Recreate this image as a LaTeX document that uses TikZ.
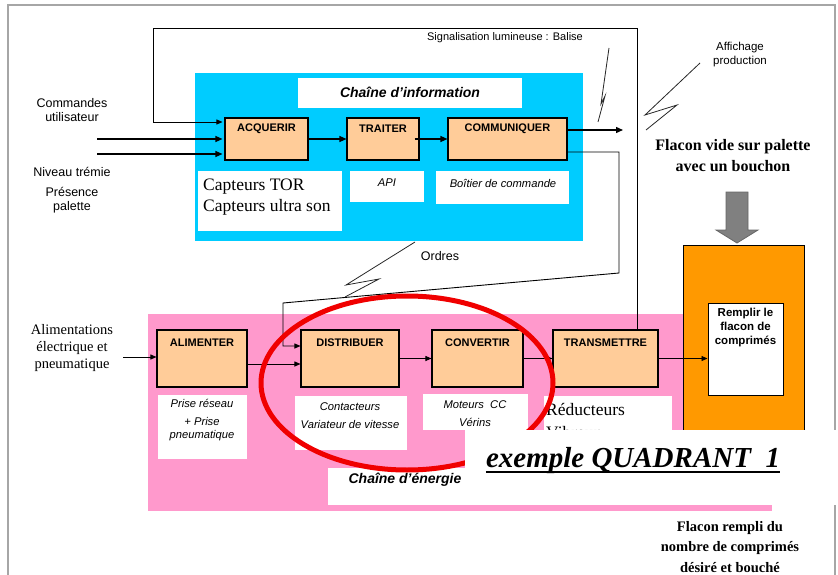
\documentclass[tikz,border=0pt]{standalone}
\usepackage{fontspec}
\setmainfont{Liberation Serif}
\setsansfont{Liberation Sans}
\usetikzlibrary{arrows.meta,calc}

\definecolor{framegray}{HTML}{A6A6A6}
\definecolor{infoblue}{HTML}{00CCFF}
\definecolor{energypink}{HTML}{FF99CC}
\definecolor{peach}{HTML}{FFCC99}
\definecolor{flaconorange}{HTML}{FF9900}
\definecolor{arrowgray}{HTML}{808080}
\definecolor{ringred}{HTML}{F00000}

\tikzset{
  frameline/.style={draw=framegray, line width=1.3pt},
  wire/.style={draw=black, line width=1.3pt},
  thinwire/.style={draw=black, line width=0.9pt},
  tip/.style={-{Triangle[length=7pt,width=6pt]}},
  smalltip/.style={-{Triangle[length=6pt,width=5pt]}},
  funcbox/.style={draw=black, line width=1.1pt, fill=peach, inner sep=0pt},
  notebox/.style={fill=white, draw=none, inner sep=0pt},
  funclabel/.style={font=\sffamily\bfseries\fontsize{11}{12}\selectfont, anchor=center},
  plain/.style={inner sep=0pt, align=center},
  smallsans/.style={plain, font=\sffamily\fontsize{12.5}{14.5}\selectfont},
  italsans/.style={plain, font=\sffamily\itshape\fontsize{11.2}{18}\selectfont},
  bigserif/.style={plain, font=\fontsize{17.5}{21}\selectfont},
  boldserif/.style={plain, font=\bfseries\fontsize{16}{21}\selectfont},
  bolt/.style={draw=black!85, line width=0.8pt},
}

\begin{document}
\begin{tikzpicture}[x=1pt,y=-1pt]
\useasboundingbox (0,0) rectangle (838,575);

% page frame
\draw[frameline] (8,590) -- (8,5) -- (835,5) -- (835,590);

% information chain background and title
\node[fill=infoblue, inner sep=0pt, minimum width=388, minimum height=168] (info) at (389,157) {};
\node[notebox, minimum width=224, minimum height=30] (infotitle) at (410,93) {};
\node[plain, font=\sffamily\bfseries\itshape\fontsize{14}{16}\selectfont] (infotitletxt) at (410,92) {Chaîne d'information};

% energy chain background
\node[fill=energypink, inner sep=0pt, minimum width=624, minimum height=197] (energy) at (460,412.5) {};

% support boxes of the information chain
\node[notebox, minimum width=144, minimum height=60] (capt) at (270,201) {};
\node[notebox, minimum width=74, minimum height=31] (api) at (387,186.5) {};
\node[notebox, minimum width=133, minimum height=33] (boit) at (502.5,187.5) {};
\node[bigserif, anchor=west, align=left] (capttxt) at (203,197) {Capteurs TOR\\Capteurs ultra son};
\node[italsans] (apitxt) at (387,183) {API};
\node[italsans] (boittxt) at (503,183) {Boîtier de commande};

% functions of the information chain
\node[funcbox, minimum width=83, minimum height=42,
      label={[funclabel, yshift=-11pt]north:ACQUERIR}] (acq) at (266.5,139) {};
\node[funcbox, minimum width=72, minimum height=42,
      label={[funclabel, yshift=-11pt]north:TRAITER}] (tra) at (383,139) {};
\node[funcbox, minimum width=119, minimum height=42,
      label={[funclabel, yshift=-11pt]north:COMMUNIQUER}] (com) at (507.5,139) {};

% support boxes of the energy chain
\node[notebox, minimum width=89, minimum height=64] (prise) at (202.5,427) {};
\node[notebox, minimum width=112, minimum height=54] (cont) at (351,423) {};
\node[notebox, minimum width=105, minimum height=36] (mot) at (475.5,412) {};
\node[notebox, minimum width=128, minimum height=70] (red) at (608,431) {};
\node[notebox, minimum width=154, minimum height=37] (entitle) at (405,486.5) {};
\node[italsans] (prisetxt) at (202,420) {Prise réseau\\+ Prise\\[-5pt]pneumatique};
\node[italsans] (conttxt) at (350,416) {Contacteurs\\Variateur de vitesse};
\node[italsans] (mottxt) at (475,414) {Moteurs~~CC\\Vérins};
\node[bigserif, anchor=west, align=left, font=\fontsize{17.5}{23}\selectfont] (redtxt) at (546,421) {Réducteurs\\Vibreur};
\node[plain, font=\sffamily\bfseries\itshape\fontsize{14}{16}\selectfont] (entitletxt) at (405,480) {Chaîne d'énergie};

% functions of the energy chain
\node[funcbox, minimum width=90, minimum height=57,
      label={[funclabel, yshift=-13pt]north:ALIMENTER}] (ali) at (202,358.5) {};
\node[funcbox, minimum width=98, minimum height=57,
      label={[funclabel, yshift=-13pt]north:DISTRIBUER}] (dis) at (350,358.5) {};
\node[funcbox, minimum width=91, minimum height=57,
      label={[funclabel, yshift=-13pt]north:CONVERTIR}] (conv) at (477.5,358.5) {};
\node[funcbox, minimum width=105, minimum height=57,
      label={[funclabel, yshift=-13pt]north:TRANSMETTRE}] (trans) at (605.5,358.5) {};

% operative part
\node[draw=black, line width=1pt, fill=flaconorange, inner sep=0pt, minimum width=121, minimum height=255] (op) at (743.5,372.5) {};
\node[draw=black, line width=1pt, fill=white, inner sep=0pt, minimum width=75, minimum height=92] (remp) at (745.5,349) {};
\node[plain, font=\sffamily\bfseries\fontsize{11.5}{14}\selectfont, anchor=north] (remptxt) at (745.5,308) {Remplir le\\flacon de\\comprimés};

% block arrow feeding the operative part
\draw[draw=black!60, fill=arrowgray, line width=0.8pt]
  (726,192) -- (748,192) -- (748,230) -- (758,230) -- (737,243) -- (716,230) -- (726,230) -- cycle;

% coordinates of the connectors
\coordinate (loopA) at (637,28);
\coordinate (loopB) at (153,28);
\coordinate (loopC) at (153,122);
\coordinate (cmdA) at (97,139);
\coordinate (cmdB) at (97,154);
\coordinate (outinfo) at (623,130);
\coordinate (ordA) at (619,152);
\coordinate (ordB) at (619,273);
\coordinate (ordC) at (283,303);
\coordinate (ordD) at (283,346);
\coordinate (alimin) at (123,357);
\coordinate (levelAD) at (0,364);

% information chain connectors
\draw[thinwire, smalltip] (trans.north -| loopA) -- (loopA) -- (loopB) -- (loopC) -- ($(acq.west |- loopC)+(-2,0)$);
\draw[wire, tip] (cmdA) -- ($(acq.west |- cmdA)+(-2,0)$);
\draw[wire, tip] (cmdB) -- ($(acq.west |- cmdB)+(-2,0)$);
\draw[wire, tip] (acq.east) -- (tra.west);
\draw[wire, tip] ($(tra.east)+(-5,0)$) -- (com.west);
\draw[wire, tip] (com.east |- outinfo) -- (outinfo);
\draw[thinwire, smalltip] (com.east |- ordA) -- (ordA) -- (ordB) -- (ordC) -- (ordD) -- (dis.west |- ordD);

% energy chain connectors
\draw[thinwire, smalltip] (alimin) -- (ali.west |- alimin);
\draw[thinwire, smalltip] (ali.east |- levelAD) -- (dis.west |- levelAD);
\draw[thinwire, smalltip] (dis.east) -- (conv.west);
\draw[thinwire, smalltip] (conv.east) -- (trans.west);
\draw[thinwire, smalltip] (trans.east) -- (remp.west |- trans.east);

% wireless links
\draw[bolt] (609,48) -- (601,104) -- (605,96) -- (598,122);
\draw[bolt] (700,63) -- (645,115) -- (677,105) -- (646,130);
\draw[bolt] (415,242) -- (346,285) -- (379,279) -- (345,297);

% free texts
\node[smallsans] (cmdtxt) at (72,110) {Commandes\\utilisateur};
\node[smallsans] (niveau) at (72,172) {Niveau trémie};
\node[smallsans] (presence) at (72,200) {Présence\\palette};
\node[plain, font=\sffamily\fontsize{11}{13}\selectfont] (signal) at (505,38) {Signalisation lumineuse : Balise};
\node[plain, font=\sffamily\fontsize{11.5}{14}\selectfont] (affich) at (740,55) {Affichage\\production};
\node[plain, font=\sffamily\fontsize{12.5}{14}\selectfont] (ordres) at (440,256) {Ordres};
\node[plain, font=\fontsize{14.5}{17}\selectfont] (alimtxt) at (72,348) {Alimentations\\électrique et\\pneumatique};
\node[boldserif] (vide) at (733,156) {Flacon vide sur palette\\avec un bouchon};
\node[boldserif, font=\bfseries\fontsize{14.5}{20.5}\selectfont] (rempli) at (730,547) {Flacon rempli du\\nombre de comprimés\\désiré et bouché};

% highlighted group
\draw[ringred, line width=5pt] (407,383) ellipse [x radius=146, y radius=87];

% caption
\node[fill=white, inner sep=0pt, minimum width=373, minimum height=75] (capbox) at (651.5,467.5) {};
\node[plain, font=\bfseries\itshape\fontsize{29}{32}\selectfont, anchor=base] (caption) at (633,467) {exemple QUADRANT~~1};
\draw[line width=2.6pt] ($(caption.base west)+(0,5)$) -- ($(caption.base east)+(0,5)$);
\end{tikzpicture}
\end{document}
